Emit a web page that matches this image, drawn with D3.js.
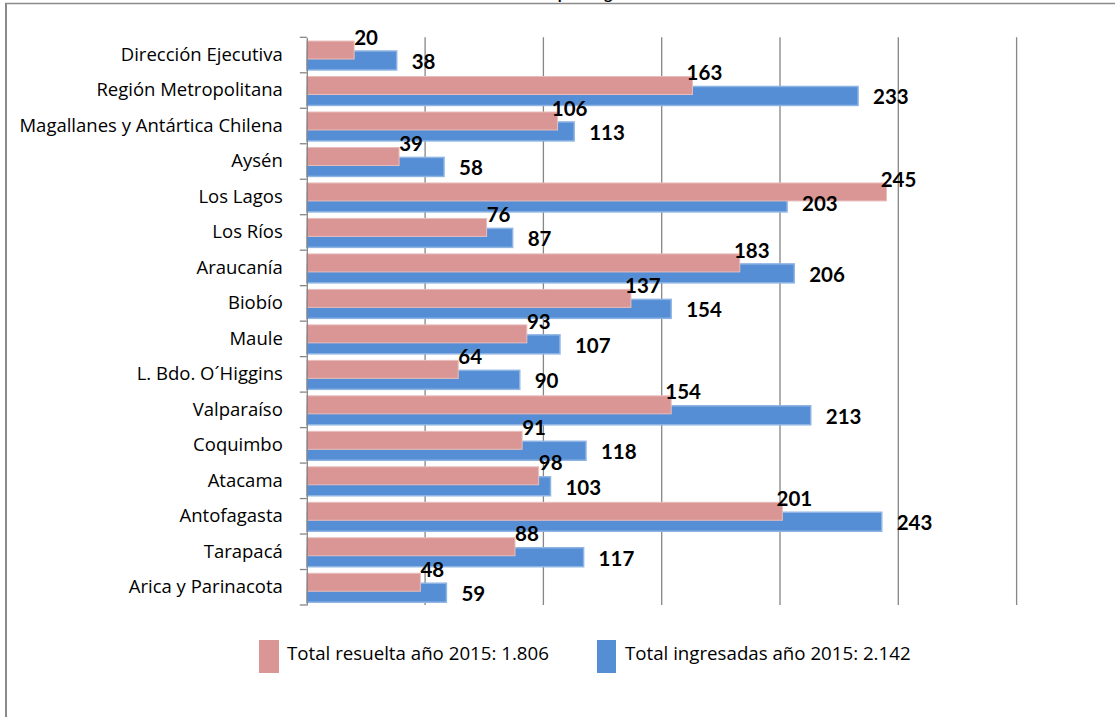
<!DOCTYPE html>
<html><head><meta charset="utf-8">
<script src="https://cdn.jsdelivr.net/npm/d3@7"></script>
<style>
html,body{margin:0;padding:0;background:#fff;overflow:hidden;}
svg{display:block;}
</style></head>
<body>
<svg id="chart" width="1115" height="717"></svg>
<script>
const categories = ["Dirección Ejecutiva","Región Metropolitana ","Magallanes y Antártica Chilena","Aysén","Los Lagos","Los Ríos","Araucanía","Biobío","Maule","L. Bdo. O´Higgins","Valparaíso","Coquimbo","Atacama","Antofagasta","Tarapacá","Arica y Parinacota"];
const resuelta   = [20,163,106,39,245,76,183,137,93,64,154,91,98,201,88,48];
const ingresadas = [38,233,113,58,203,87,206,154,107,90,213,118,103,243,117,59];
const gridTicks  = [0,50,100,150,200,250,300];
const seriesNames = ["Total resuelta año 2015: 1.806","Total ingresadas año 2015: 2.142"];
const titleText = "Solicitudes por Región";

const svg = d3.select("#chart");
const FONT = "'Open Sans', Lato, sans-serif";
const BFONT = "Lato, 'Open Sans', sans-serif";
const PINK = "#D99694", PINK_S = "#E8BEBD";
const BLUE = "#558ED5", BLUE_S = "#8EB4E3";
const GRID = "#868686";

// frame
svg.append("line").attr("x1",5).attr("x2",1115).attr("y1",3.5).attr("y2",3.5).attr("stroke","#8a8a8a").attr("stroke-width",1.5);
svg.append("line").attr("x1",6).attr("x2",6).attr("y1",3).attr("y2",717).attr("stroke","#8a8a8a").attr("stroke-width",2);

// cut-off title (only descenders visible, as in the reference)
const t = svg.append("text").attr("y",-1).attr("font-family",BFONT).attr("font-size",16).attr("font-weight","bold").attr("fill","#000").text(titleText);
const tmp = svg.append("text").attr("font-family",BFONT).attr("font-size",16).attr("font-weight","bold").text("Solicitudes ");
const preW = tmp.node().getComputedTextLength(); tmp.remove();
t.attr("x", 554 - preW);

const x = d3.scaleLinear().domain([0,300]).range([306.8,1016.6]);
const y = d3.scaleBand().domain(categories).range([37.3,605]).paddingInner(0).paddingOuter(0);
const bw = y.bandwidth();

// gridlines
svg.append("g").selectAll("line").data(gridTicks.filter(d=>d>0)).join("line")
  .attr("x1",d=>x(d)).attr("x2",d=>x(d)).attr("y1",y.range()[0]).attr("y2",y.range()[1])
  .attr("stroke",GRID).attr("stroke-width",1.3);

// blue bars
svg.append("g").selectAll("rect").data(categories).join("rect")
  .attr("x",x(0)).attr("y",(d)=>y(d)+bw*0.386).attr("height",bw*0.535)
  .attr("width",(d,i)=>x(ingresadas[i])-x(0))
  .attr("fill",BLUE).attr("stroke",BLUE_S).attr("stroke-width",1.5);

// pink bars
svg.append("g").selectAll("rect").data(categories).join("rect")
  .attr("x",x(0)).attr("y",(d)=>y(d)+bw*0.105).attr("height",bw*0.507)
  .attr("width",(d,i)=>x(resuelta[i])-x(0))
  .attr("fill",PINK).attr("stroke",PINK_S).attr("stroke-width",1);

// axis
const yAxis = d3.axisLeft(y).tickSize(0).tickPadding(24);
const ag = svg.append("g").attr("transform",`translate(${x(0)},0)`).call(yAxis);
ag.select(".domain").attr("stroke",GRID).attr("stroke-width",1.3);
ag.selectAll(".tick text").attr("font-family",FONT).attr("font-size",18.5).attr("fill","#000");
// band boundary ticks
const bounds = categories.map(c=>y(c)).concat([y.range()[1]]);
svg.append("g").selectAll("line").data(bounds).join("line")
  .attr("x1",x(0)-7).attr("x2",x(0)).attr("y1",d=>d).attr("y2",d=>d)
  .attr("stroke",GRID).attr("stroke-width",1.3);

// value labels
svg.append("g").selectAll("text").data(categories).join("text")
  .attr("x",(d,i)=>x(resuelta[i])+12).attr("y",d=>y(d)+0).attr("dy","0.36em")
  .attr("text-anchor","middle").attr("font-family",BFONT).attr("font-size",20.5).attr("font-weight","bold")
  .text((d,i)=>resuelta[i]);
svg.append("g").selectAll("text").data(categories).join("text")
  .attr("x",(d,i)=>x(ingresadas[i])+15).attr("y",d=>y(d)+bw*0.654+1).attr("dy","0.36em")
  .attr("text-anchor","start").attr("font-family",BFONT).attr("font-size",20.5).attr("font-weight","bold")
  .text((d,i)=>ingresadas[i]);

// legend
const legX = [259, 597];
const legColors = [PINK, BLUE];
const lg = svg.append("g");
seriesNames.forEach((n,i)=>{
  lg.append("rect").attr("x",legX[i]).attr("y",640).attr("width",i?19:20).attr("height",33).attr("fill",legColors[i]);
  lg.append("text").attr("x",legX[i]+28).attr("y",653).attr("dy","0.36em").attr("font-family",FONT).attr("font-size",18.7).attr("fill","#000").text(n);
});
</script>
</body></html>
